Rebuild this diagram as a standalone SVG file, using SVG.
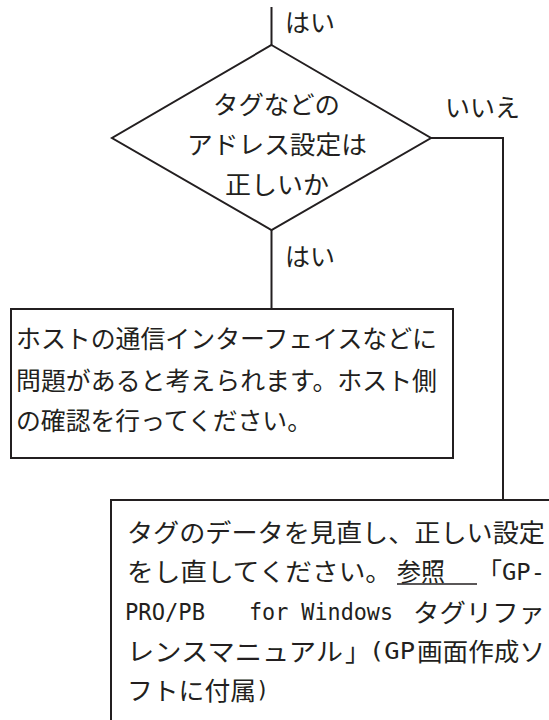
<svg xmlns="http://www.w3.org/2000/svg" width="549" height="720" viewBox="0 0 549 720">
  <style>
    .ln { fill: none; stroke: #231f20; stroke-width: 2; }
    .box { fill: #ffffff; stroke: #231f20; stroke-width: 2; }
    .t { font-family: "Noto Sans CJK JP", "Noto Sans", sans-serif; font-size: 25px; fill: #231f20; }
    .m { font-family: "DejaVu Sans Mono", "Liberation Mono", monospace; font-size: 23px; fill: #231f20; }
  </style>
  <rect width="549" height="720" fill="#ffffff"/>
  <g id="connectors">
    <line class="ln" x1="271.5" y1="7" x2="271.5" y2="45"/>
    <line class="ln" x1="271.5" y1="230" x2="271.5" y2="309"/>
    <polyline class="ln" points="431,138 503,138 503,500"/>
    <text class="t" x="285" y="32" textLength="50" lengthAdjust="spacingAndGlyphs">はい</text>
    <text class="t" x="285" y="266" textLength="50" lengthAdjust="spacingAndGlyphs">はい</text>
    <text class="t" x="445" y="117" textLength="75" lengthAdjust="spacingAndGlyphs">いいえ</text>
  </g>
  <g id="decision">
    <polygon class="box" points="271.5,45 431,138 271.5,230 112,138"/>
    <text class="t" x="213" y="114" textLength="127" lengthAdjust="spacingAndGlyphs">タグなどの</text>
    <text class="t" x="187" y="154" textLength="180" lengthAdjust="spacingAndGlyphs">アドレス設定は</text>
    <text class="t" x="225" y="194" textLength="104" lengthAdjust="spacingAndGlyphs">正しいか</text>
  </g>
  <g id="host-box">
    <rect class="box" x="11" y="309" width="442" height="149"/>
    <text class="t" x="16" y="348" textLength="421" lengthAdjust="spacingAndGlyphs">ホストの通信インターフェイスなどに</text>
    <text class="t" x="16" y="390" textLength="421" lengthAdjust="spacingAndGlyphs">問題があると考えられます。ホスト側</text>
    <text class="t" x="16" y="430" textLength="296" lengthAdjust="spacingAndGlyphs">の確認を行ってください。</text>
  </g>
  <g id="tag-box">
    <rect class="box" x="111" y="500" width="460" height="240"/>
    <text class="t" x="127" y="542" textLength="418" lengthAdjust="spacingAndGlyphs">タグのデータを見直し、正しい設定</text>
    <text class="t" x="127" y="581" textLength="265" lengthAdjust="spacingAndGlyphs">をし直してください。</text>
    <text class="t" x="397" y="581" textLength="48" lengthAdjust="spacingAndGlyphs">参照</text>
    <line x1="397" y1="584" x2="477" y2="584" stroke="#231f20" stroke-width="1.5"/>
    <text class="t" x="477" y="581">「</text>
    <text class="m" x="502" y="580" textLength="43" lengthAdjust="spacingAndGlyphs">GP-</text>
    <text class="m" x="125" y="620" textLength="80" lengthAdjust="spacingAndGlyphs">PRO/PB</text>
    <text class="m" x="249" y="620" textLength="144" lengthAdjust="spacingAndGlyphs">for Windows</text>
    <text class="t" x="413" y="622" textLength="132" lengthAdjust="spacingAndGlyphs">タグリファ</text>
    <text class="t" x="127" y="661" textLength="216" lengthAdjust="spacingAndGlyphs">レンスマニュアル</text>
    <text class="t" x="345" y="661">」</text>
    <text class="m" x="369" y="659" textLength="46" lengthAdjust="spacingAndGlyphs">(GP</text>
    <text class="t" x="417" y="661" textLength="128" lengthAdjust="spacingAndGlyphs">画面作成ソ</text>
    <text class="t" x="127" y="700" textLength="129" lengthAdjust="spacingAndGlyphs">フトに付属</text>
    <text class="m" x="256" y="698" textLength="13" lengthAdjust="spacingAndGlyphs">)</text>
  </g>
</svg>
